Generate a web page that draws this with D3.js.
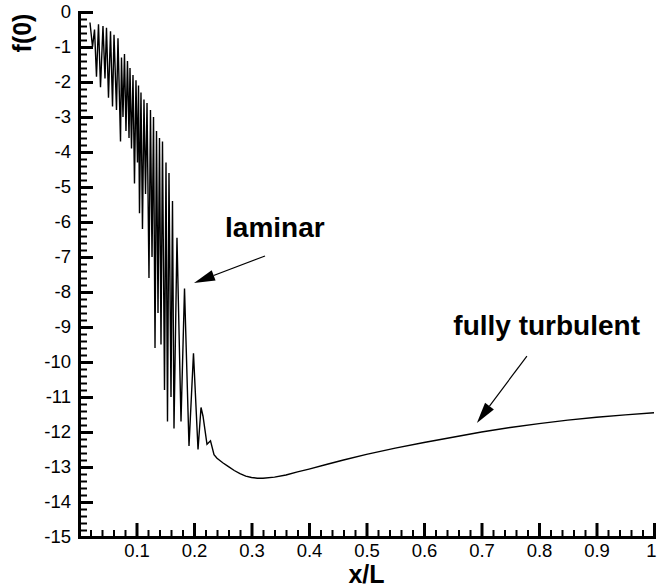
<!DOCTYPE html>
<html><head><meta charset="utf-8">
<script src="https://cdn.jsdelivr.net/npm/d3@7"></script>
<style>
body{margin:0;background:#fff}
svg{display:block}
text{font-family:Arial,"Liberation Sans",Helvetica,sans-serif;fill:#000}
</style>
</head><body>
<svg id="chart" width="657" height="588"></svg>
<script>
// ---- data (x/L, f(0)) ----
const xPos = [0.0191,0.0235,0.027,0.0304,0.0339,0.0374,0.0417,0.0452,0.0478,0.0513,
  0.0548,0.0583,0.0609,0.0652,
  0.0678,0.0722,0.0739,0.0765,0.0791,0.0817,0.0843,0.087,0.0887,0.0913,
  0.0939,0.0965,0.0991,0.1017,0.1035,0.1052,0.1078,0.1104,0.113,0.1157,
  0.1183,0.1217,0.1243,0.127,0.1296,0.1322,0.1348,0.1374,0.14,0.1426,
  0.1452,0.1487,0.1513,0.1539,0.1565,0.16,0.1626,0.1652,0.1704,0.1774,
  0.1835,0.1913,0.1991,0.207,0.2122,0.2157,0.2226,0.2287,0.2348,0.24,
  0.25,0.26,0.27,0.28,0.29,0.30,0.31,0.32,0.34,0.36,0.38,0.40,0.43,0.46,
  0.50,0.55,0.60,0.65,0.70,0.75,0.80,0.85,0.90,0.95,1.00];
const fVal = [-0.3,-1.0,-0.5,-1.85,-0.35,-2.15,-0.4,-1.9,-0.45,-2.45,
  -0.55,-2.7,-0.65,-2.8,
  -0.75,-3.7,-1.3,-3.0,-1.2,-3.4,-1.4,-3.6,-1.6,-3.9,
  -1.8,-4.9,-1.95,-4.3,-2.1,-5.75,-2.3,-6.2,-2.5,-5.2,
  -2.6,-7.6,-2.8,-7.0,-3.0,-9.6,-3.4,-8.6,-3.6,-9.5,
  -3.7,-10.8,-4.3,-11.7,-4.6,-11.0,-5.4,-11.9,-6.45,-11.7,
  -7.9,-12.4,-9.75,-12.5,-11.3,-11.55,-12.35,-12.25,-12.65,-12.75,
  -12.88,-12.99,-13.1,-13.19,-13.26,-13.3,-13.32,-13.32,-13.29,-13.23,-13.14,-13.06,-12.93,-12.8,
  -12.64,-12.46,-12.3,-12.15,-12.0,-11.87,-11.76,-11.66,-11.58,-11.51,-11.45];

// ---- ticks ----
const xMajorTicks = [0.1,0.2,0.3,0.4,0.5,0.6,0.7,0.8,0.9,1];
const xTickLabels = ["0.1","0.2","0.3","0.4","0.5","0.6","0.7","0.8","0.9","1"];
const yMajorTicks = [0,-1,-2,-3,-4,-5,-6,-7,-8,-9,-10,-11,-12,-13,-14,-15];
const yTickLabels = ["0","-1","-2","-3","-4","-5","-6","-7","-8","-9","-10","-11","-12","-13","-14","-15"];

// ---- annotations (data coords) ----
const annoText = ["laminar","fully turbulent"];
const annoTextPos = [[0.254,-6.43],[0.651,-9.23]];
const annoArrowFrom = [[0.3235,-6.97],[0.779,-9.83]];
const annoArrowTo = [[0.2,-7.74],[0.692,-11.74]];

const svg = d3.select("#chart");
const x = d3.scaleLinear().domain([0,1]).range([79,654]);
const y = d3.scaleLinear().domain([-15,0]).range([537,12]);

// curve (drawn first, axes on top)
const pts = xPos.map((v,i)=>[v,fVal[i]]);
svg.append("path").datum(pts)
  .attr("fill","none").attr("stroke","#000").attr("stroke-width",1.4).attr("stroke-linejoin","miter")
  .attr("d", d3.line().x(d=>x(d[0])).y(d=>y(d[1])));

// minor ticks
const xMinor = d3.range(0,1.0001,0.02).filter(v=>Math.abs(v*10-Math.round(v*10))>1e-6);
const yMinor = d3.range(0,-15.0001,-0.2).filter(v=>Math.abs(v-Math.round(v))>1e-6);

const gxMinor = svg.append("g").attr("transform",`translate(0,${y(-15)})`)
  .call(d3.axisBottom(x).tickValues(xMinor).tickSize(-7).tickSizeOuter(0).tickFormat(""));
gxMinor.select(".domain").remove();
gxMinor.selectAll(".tick line").style("stroke","#000").style("stroke-width","2px");

const gyMinor = svg.append("g").attr("transform",`translate(${x(0)},0)`)
  .call(d3.axisLeft(y).tickValues(yMinor).tickSize(-8).tickSizeOuter(0).tickFormat(""));
gyMinor.select(".domain").remove();
gyMinor.selectAll(".tick line").style("stroke","#000").style("stroke-width","2px");

const gx = svg.append("g").attr("transform",`translate(0,${y(-15)})`)
  .call(d3.axisBottom(x).tickValues(xMajorTicks).tickSize(-14).tickSizeOuter(0).tickPadding(7)
    .tickFormat((d,i)=>xTickLabels[i]));
gx.select(".domain").style("stroke","#000").style("stroke-width","3px").style("stroke-linecap","square");
gx.selectAll(".tick line").style("stroke","#000").style("stroke-width","3px");
gx.selectAll(".tick text").attr("font-size",18.5).attr("dx",d=> d===1 ? -3 : 0);

const gy = svg.append("g").attr("transform",`translate(${x(0)},0)`)
  .call(d3.axisLeft(y).tickValues(yMajorTicks).tickSize(-14).tickSizeOuter(0).tickPadding(8)
    .tickFormat((d,i)=>yTickLabels[i]));
gy.select(".domain").style("stroke","#000").style("stroke-width","3px").style("stroke-linecap","square");
gy.selectAll(".tick line").style("stroke","#000").style("stroke-width","3px");
gy.selectAll(".tick text").attr("font-size",18.5);

// axis titles
svg.append("text").attr("x",x(0.5)).attr("y",583).attr("text-anchor","middle")
  .attr("font-size",25).attr("font-weight","bold").text("x/L");
svg.append("text").attr("transform",`translate(31,33) rotate(-90)`).attr("text-anchor","middle")
  .attr("font-size",25).attr("font-weight","bold").text("f(0)");

// annotations
annoText.forEach((t,i)=>{
  svg.append("text").attr("x",x(annoTextPos[i][0])).attr("y",y(annoTextPos[i][1]))
    .attr("font-size",28).attr("font-weight","bold").text(t);
  const x1=x(annoArrowFrom[i][0]), y1=y(annoArrowFrom[i][1]);
  const x2=x(annoArrowTo[i][0]), y2=y(annoArrowTo[i][1]);
  const ang=Math.atan2(y2-y1,x2-x1), L=21, hw=5.5;
  const bx=x2-L*Math.cos(ang), by=y2-L*Math.sin(ang);
  svg.append("line").attr("x1",x1).attr("y1",y1).attr("x2",bx).attr("y2",by)
    .attr("stroke","#000").attr("stroke-width",1.2);
  const p=[[x2,y2],[bx+hw*Math.sin(ang),by-hw*Math.cos(ang)],[bx-hw*Math.sin(ang),by+hw*Math.cos(ang)]];
  svg.append("polygon").attr("points",p.map(q=>q.join(",")).join(" ")).attr("fill","#000");
});
</script>
</body></html>
